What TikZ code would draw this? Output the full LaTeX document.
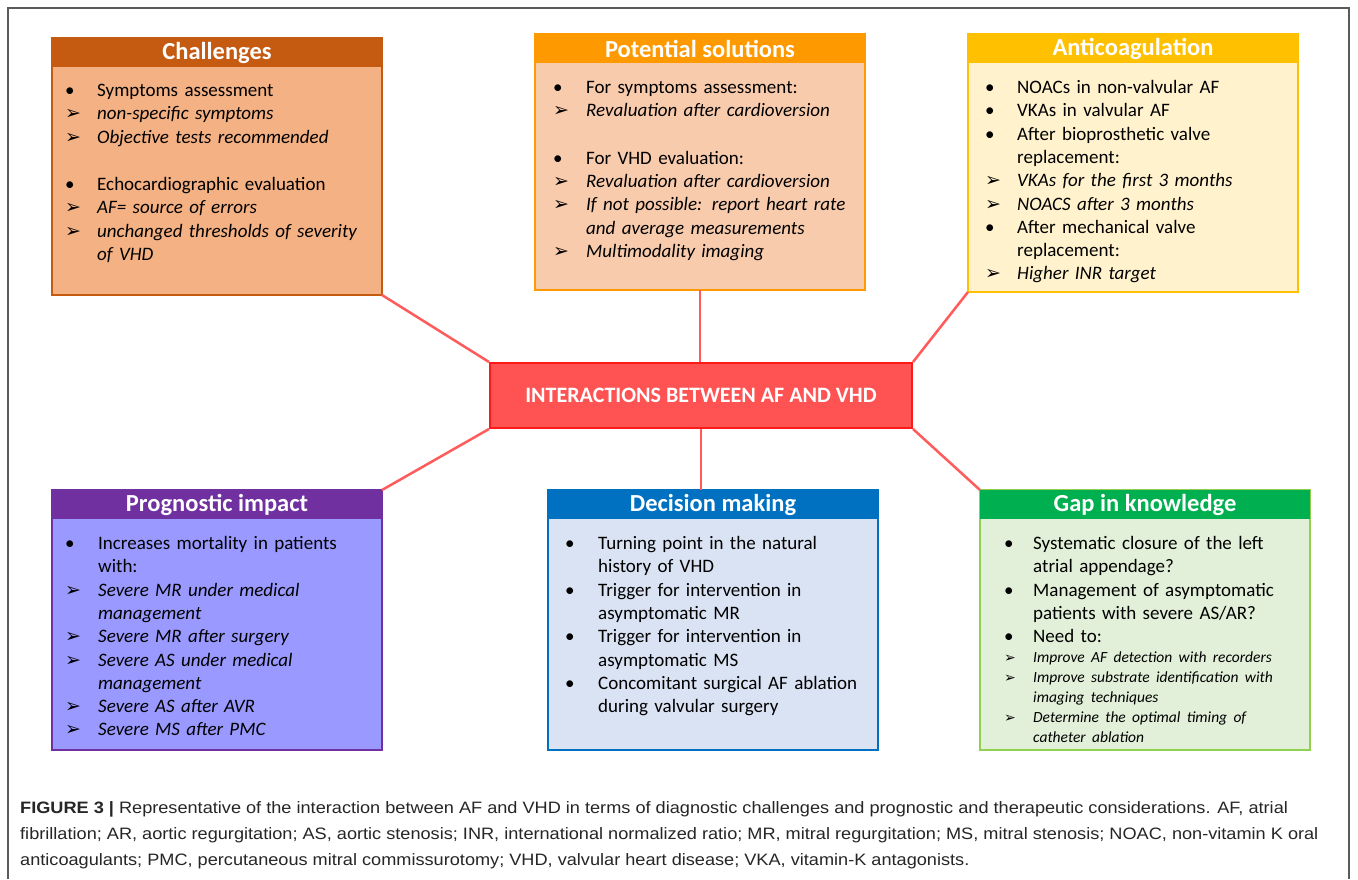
\documentclass[tikz,border=0pt]{standalone}
\usepackage{fontspec}
\setmainfont{Carlito}
\newfontfamily\capfont{Liberation Sans}[FakeStretch=1.10]
\newfontfamily\symfont{DejaVu Sans}
\usetikzlibrary{positioning}

\definecolor{chaldark}{HTML}{C55A11}
\definecolor{chalbody}{HTML}{F4B183}
\definecolor{soldark}{HTML}{FF9900}
\definecolor{solbody}{HTML}{F8CBAD}
\definecolor{antidark}{HTML}{FFC000}
\definecolor{antibody}{HTML}{FFF2CC}
\definecolor{progdark}{HTML}{7030A0}
\definecolor{progbody}{HTML}{9999FF}
\definecolor{decdark}{HTML}{0070C0}
\definecolor{decbody}{HTML}{DAE3F3}
\definecolor{gapdark}{HTML}{00B050}
\definecolor{gapedge}{HTML}{92D050}
\definecolor{gapbody}{HTML}{E2F0D9}
\definecolor{corefill}{HTML}{FF5252}
\definecolor{coreedge}{HTML}{FF1A1A}
\definecolor{linkred}{HTML}{FF5B5B}
\definecolor{framegray}{HTML}{5A5A5A}

\newlength\labw
\newcommand{\bul}[1]{\par\hangindent=\labw\hangafter=1\noindent\makebox[\labw][l]{\textbullet}#1}
\newcommand{\arw}[1]{\par\hangindent=\labw\hangafter=1\noindent\makebox[\labw][l]{\symfont\fontsize{19}{19}\selectfont ➢}\textit{#1}}
\newcommand{\sarw}[1]{\par\begingroup\fontsize{15.5}{20}\selectfont\hangindent=\labw\hangafter=1\noindent\makebox[\labw][l]{\symfont\fontsize{14}{14}\selectfont ➢}\textit{#1}\par\endgroup}
\newcommand{\gap}{\par\vspace{24pt}}

\tikzset{
  panel/.style={draw=#1, line width=2pt, minimum width=330, inner sep=0, outer sep=0, anchor=north west},
  head/.style={fill=#1, text=white, font=\fontsize{24.5}{28}\selectfont\bfseries, minimum width=330, minimum height=29, inner sep=0, outer sep=0, anchor=north west},
  items/.style={anchor=north west, inner sep=0, text width=315, font=\fontsize{19}{23.3}\selectfont},
  core/.style={fill=corefill, draw=coreedge, line width=2pt, text=white, font=\fontsize{22}{26}\selectfont\bfseries, minimum width=422, minimum height=65},
  link/.style={draw=linkred, line width=2.5pt},
}

\begin{document}
\begin{tikzpicture}[x=1pt, y=-1pt]
  \useasboundingbox (0,0) rectangle (1358,879);
  \fill[white] (0,0) rectangle (1358,879);
  \draw[framegray, line width=1.5pt] (8,879) -- (8,8) -- (1349,8) -- (1349,879);

  % centre
  \node[core] (core) at (701,395.5) {INTERACTIONS BETWEEN AF AND VHD};

  % top row
  \node[panel=chaldark, fill=chalbody, minimum height=257] (chal) at (52,38) {};
  \node[head=chaldark] (chalhead) at (chal.north west) {Challenges};
  \node[items] (chaltxt) at ([xshift=13,yshift=-6]chalhead.south west) {\setlength\labw{32pt}%
    \bul{Symptoms assessment}
    \arw{non-specific symptoms}
    \arw{Objective tests recommended}
    \gap
    \bul{Echocardiographic evaluation}
    \arw{AF= source of errors}
    \arw{unchanged thresholds of severity\newline of VHD}\par};

  \node[panel=soldark, fill=solbody, minimum height=256] (sol) at (535,34) {};
  \node[head=soldark] (solhead) at (sol.north west) {Potential solutions};
  \node[items] (soltxt) at ([xshift=18,yshift=-7]solhead.south west) {\setlength\labw{33pt}%
    \bul{For symptoms assessment:}
    \arw{Revaluation after cardioversion}
    \gap
    \bul{For VHD evaluation:}
    \arw{Revaluation after cardioversion}
    \arw{If not possible: report heart rate\newline and average measurements}
    \arw{Multimodality imaging}\par};

  \node[panel=antidark, fill=antibody, minimum height=258] (anti) at (968,34) {};
  \node[head=antidark] (antihead) at (anti.north west) {Anticoagulation};
  \node[items] (antitxt) at ([xshift=17,yshift=-7]antihead.south west) {\setlength\labw{32pt}%
    \bul{NOACs in non-valvular AF}
    \bul{VKAs in valvular AF}
    \bul{After bioprosthetic valve\newline replacement:}
    \arw{VKAs for the first 3 months}
    \arw{NOACS after 3 months}
    \bul{After mechanical valve\newline replacement:}
    \arw{Higher INR target}\par};

  % bottom row
  \node[panel=progdark, fill=progbody, minimum height=260] (prog) at (52,490) {};
  \node[head=progdark] (proghead) at (prog.north west) {Prognostic impact};
  \node[items] (progtxt) at ([xshift=13,yshift=-7]proghead.south west) {\setlength\labw{33pt}%
    \bul{Increases mortality in patients\newline with:}
    \arw{Severe MR under medical\newline management}
    \arw{Severe MR after surgery}
    \arw{Severe AS under medical\newline management}
    \arw{Severe AS after AVR}
    \arw{Severe MS after PMC}\par};

  \node[panel=decdark, fill=decbody, minimum height=260] (dec) at (548,490) {};
  \node[head=decdark] (dechead) at (dec.north west) {Decision making};
  \node[items] (dectxt) at ([xshift=17,yshift=-7]dechead.south west) {\setlength\labw{33pt}%
    \bul{Turning point in the natural\newline history of VHD}
    \bul{Trigger for intervention in\newline asymptomatic MR}
    \bul{Trigger for intervention in\newline asymptomatic MS}
    \bul{Concomitant surgical AF ablation\newline during valvular surgery}\par};

  \node[panel=gapedge, fill=gapbody, minimum height=260] (gap) at (980,490) {};
  \node[head=gapdark] (gaphead) at (gap.north west) {Gap in knowledge};
  \node[items] (gaptxt) at ([xshift=24,yshift=-7]gaphead.south west) {\setlength\labw{29pt}%
    \bul{Systematic closure of the left\newline atrial appendage?}
    \bul{Management of asymptomatic\newline patients with severe AS/AR?}
    \bul{Need to:}
    \sarw{Improve AF detection with recorders}
    \sarw{Improve substrate identification with\newline imaging techniques}
    \sarw{Determine the optimal timing of\newline catheter ablation}};

  % links
  \draw[link] (chal.south east) -- (core.north west);
  \draw[link] (sol.south) -- (sol.south |- core.north);
  \draw[link] (anti.south west) -- (core.north east);
  \draw[link] (core.south west) -- (prog.north east);
  \draw[link] (core.south) -- (core.south |- dec.north);
  \draw[link] (core.south east) -- (gap.north west);

  % caption
  \node[anchor=north west, inner sep=0, align=left, text=black!85, font=\capfont\fontsize{16.5}{26}\selectfont] (caption) at (20,801)
    {\textbf{FIGURE 3 |} Representative of the interaction between AF and VHD in terms of diagnostic challenges and prognostic and therapeutic considerations. AF, atrial\\
     fibrillation; AR, aortic regurgitation; AS, aortic stenosis; INR, international normalized ratio; MR, mitral regurgitation; MS, mitral stenosis; NOAC, non-vitamin K oral\\
     anticoagulants; PMC, percutaneous mitral commissurotomy; VHD, valvular heart disease; VKA, vitamin-K antagonists.};
\end{tikzpicture}
\end{document}
